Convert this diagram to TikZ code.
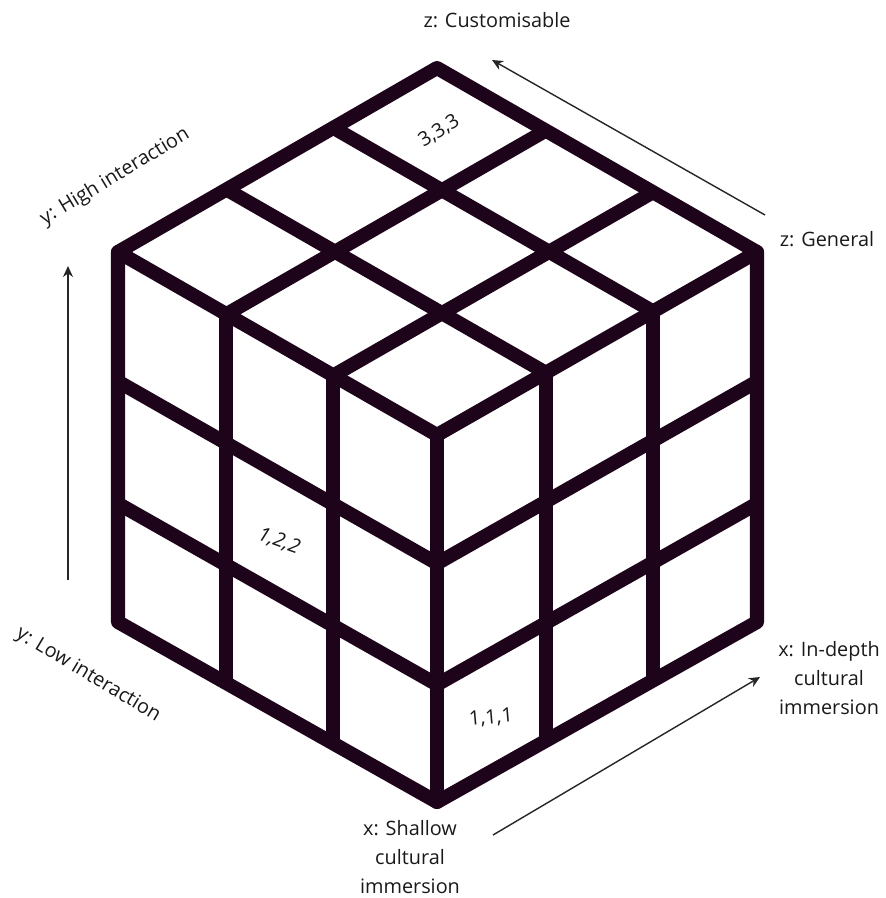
\documentclass[tikz,border=0pt]{standalone}
\usepackage{fontspec}
\setmainfont{Open Sans}
\usetikzlibrary{calc, arrows.meta}
\definecolor{cubeink}{RGB}{30,4,26}

\begin{document}
\begin{tikzpicture}[
    x=0.02cm, y=-0.02cm, font=\fontsize{11.3}{16.4}\selectfont,
    edge/.style={draw=cubeink, line width=8pt, line join=round, line cap=round},
    grid/.style={draw=cubeink, line width=8pt},
    axis/.style={-{Stealth[length=2.2mm, width=2mm]}, line width=0.8pt, draw=black!85},
    lbl/.style={align=center, text=black!90, inner sep=1pt},
    cell/.style={text=black!90, inner sep=1pt}
]
\useasboundingbox (0,0) rectangle (885,898);
% cube corners
\coordinate (T) at (437,68);
\coordinate (LT) at (118,252);
\coordinate (RT) at (757,252);
\coordinate (C) at (437,435);
\coordinate (LB) at (118,622);
\coordinate (RB) at (757,622);
\coordinate (B) at (437,802);

% inner lines of the three faces
\foreach \f in {0.34, 0.675}{
  \draw[grid] ($(LT)!\f!(C)$) -- ($(LB)!\f!(B)$);
  \draw[grid] ($(C)!\f!(RT)$) -- ($(B)!\f!(RB)$);
  \draw[grid] ($(LT)!\f!(C)$) -- ($(T)!\f!(RT)$);
  \draw[grid] ($(C)!\f!(RT)$) -- ($(LT)!\f!(T)$);
}
\foreach \g in {0.35, 0.68}{
  \draw[grid] ($(LT)!\g!(LB)$) -- ($(C)!\g!(B)$);
  \draw[grid] ($(C)!\g!(B)$) -- ($(RT)!\g!(RB)$);
}
% outline
\draw[edge] (T) -- (RT) -- (RB) -- (B) -- (LB) -- (LT) -- cycle;
\draw[edge] (LT) -- (C) -- (RT);
\draw[edge] (C) -- (B);

% cell labels
\node[cell, rotate=32] (c333) at (439,131) {3,3,3};
\node[cell, rotate=-20, font=\fontsize{11.3}{13}\selectfont\itshape] (c122) at (279,541) {1,2,2};
\node[cell, rotate=5] (c111) at (491,718) {1,1,1};

% axis labels
\node[lbl] (zhi) at (497,20) {z: Customisable};
\node[lbl] (zlo) at (827,239) {z: General};
\node[lbl, rotate=31] (yhi) at (115,177) {y: High interaction};
\node[lbl, rotate=-31] (ylo) at (88,675) {y: Low interaction};
\node[lbl] (xhi) at (829,678) {x: In-depth\\cultural\\immersion};
\node[lbl] (xlo) at (410,857) {x: Shallow\\cultural\\immersion};

% axis arrows
\coordinate (zs) at (765,215);
\coordinate (ze) at (492,60);
\coordinate (ys) at (68,580);
\coordinate (ye) at (68,266);
\coordinate (xs) at (493,835);
\coordinate (xe) at (760,677);
\draw[axis] (zs) -- (ze);
\draw[axis] (ys) -- (ye);
\draw[axis] (xs) -- (xe);
\end{tikzpicture}
\end{document}
